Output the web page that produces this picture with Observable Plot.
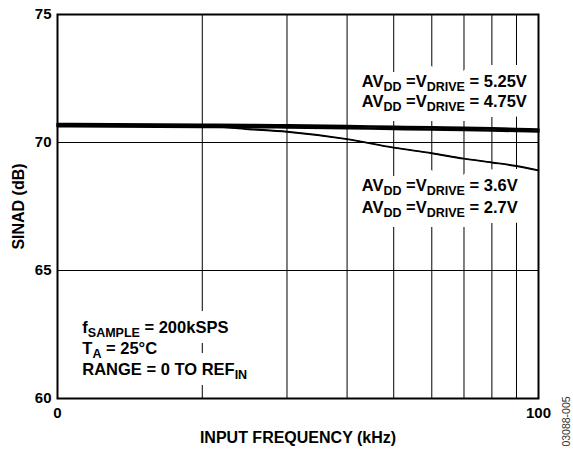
<!DOCTYPE html>
<html>
<head>
<meta charset="utf-8">
<script src="https://cdn.jsdelivr.net/npm/d3@7"></script>
<script src="https://cdn.jsdelivr.net/npm/@observablehq/plot@0.6"></script>
<style>
  html, body { margin: 0; padding: 0; background: #fff; }
</style>
</head>
<body>
<div id="chart"></div>
<script>
// Input frequency (kHz), log axis
const freq = [10, 20, 25, 30, 40, 50, 60, 70, 80, 90, 100];
// SINAD (dB) per supply
const sinad525 = [70.72, 70.69, 70.68, 70.67, 70.64, 70.61, 70.59, 70.57, 70.55, 70.53, 70.51];
const sinad475 = [70.64, 70.61, 70.60, 70.59, 70.56, 70.53, 70.51, 70.49, 70.47, 70.45, 70.43];
const sinad36  = [70.69, 70.66, 70.53, 70.43, 70.14, 69.81, 69.59, 69.38, 69.23, 69.09, 68.92];
const sinad27  = [70.67, 70.64, 70.51, 70.41, 70.12, 69.79, 69.57, 69.36, 69.21, 69.07, 68.90];

const seriesNames = ["5.25V", "4.75V", "3.6V", "2.7V"];
const seriesValues = [sinad525, sinad475, sinad36, sinad27];

const xTicks = [10, 100];
const xTickLabels = ["0", "100"];
const xGrid = [20, 30, 40, 50, 60, 70, 80, 90];
const yTicks = [60, 65, 70, 75];
const yGrid = [65, 70];

const notesHigh = ["AV_{DD} =V_{DRIVE} = 5.25V", "AV_{DD} =V_{DRIVE} = 4.75V"];
const notesLow = ["AV_{DD} =V_{DRIVE} = 3.6V", "AV_{DD} =V_{DRIVE} = 2.7V"];
const notesCond = ["f_{SAMPLE} = 200kSPS", "T_{A} = 25°C", "RANGE = 0 TO REF_{IN}"];

const rows = [];
seriesNames.forEach((name, i) => {
  freq.forEach((f, j) => rows.push({series: name, f, db: seriesValues[i][j]}));
});
const thick = rows.filter(d => d.series === "5.25V" || d.series === "4.75V");
const thin = rows.filter(d => d.series === "3.6V" || d.series === "2.7V");

const notes = [
  {t: notesHigh[0], x: 42.9, y: 72.18},
  {t: notesHigh[1], x: 42.9, y: 71.37},
  {t: notesLow[0], x: 42.9, y: 68.11},
  {t: notesLow[1], x: 42.9, y: 67.26},
  {t: notesCond[0], x: 11.26, y: 62.56},
  {t: notesCond[1], x: 11.26, y: 61.74},
  {t: notesCond[2], x: 11.26, y: 60.90}
];
const noteBase = {
  text: d => d.t,
  x: d => d.x,
  y: d => d.y,
  textAnchor: "start",
  lineAnchor: "bottom",
  fontSize: 16.5,
  fontWeight: "bold"
};

const chart = Plot.plot({
  width: 573,
  height: 449,
  marginLeft: 57,
  marginRight: 35,
  marginTop: 14,
  marginBottom: 51,
  style: {fontFamily: "'Liberation Sans', Arial, sans-serif", fontSize: "14px", fontWeight: "bold", color: "black", background: "white"},
  x: {type: "log", domain: [10, 100]},
  y: {domain: [60, 75]},
  marks: [
    Plot.ruleX(xGrid, {stroke: "black", strokeWidth: 1}),
    Plot.ruleY(yGrid, {stroke: "black", strokeWidth: 1}),
    // white backing behind the annotations (breaks the grid like the original)
    Plot.text(notes, {...noteBase, fill: "white", stroke: "white", strokeWidth: 20, strokeLinejoin: "round"}),
    Plot.text(notes, {...noteBase, fill: "black"}),
    Plot.line(thick, {x: "f", y: "db", z: "series", stroke: "black", strokeWidth: 2.6, curve: "monotone-x"}),
    Plot.line(thin, {x: "f", y: "db", z: "series", stroke: "black", strokeWidth: 1.4, curve: "monotone-x"}),
    Plot.frame({stroke: "black", strokeWidth: 2}),
    Plot.axisY({ticks: yTicks, tickSize: 0, tickPadding: 6, label: null, fontSize: 15, fontWeight: "bold"}),
    Plot.axisX({ticks: xTicks, tickFormat: d => xTickLabels[xTicks.indexOf(d)], tickSize: 0, tickPadding: 9, label: null, fontSize: 15, fontWeight: "bold"}),
    Plot.text(["INPUT FREQUENCY (kHz)"], {frameAnchor: "bottom", dy: 44, textAnchor: "middle", lineAnchor: "bottom", fontSize: 16, fontWeight: "bold", fill: "black"}),
    Plot.text(["SINAD (dB)"], {frameAnchor: "left", dx: -39, rotate: -90, textAnchor: "middle", lineAnchor: "middle", fontSize: 16, fontWeight: "bold", fill: "black"}),
    Plot.text(["03088-005"], {frameAnchor: "bottom-right", dx: 28, dy: 23, rotate: -90, textAnchor: "middle", lineAnchor: "middle", fontSize: 10.5, fontWeight: "normal", fill: "#333"})
  ]
});

// turn "_{...}" into real subscript tspans
const NS = "http://www.w3.org/2000/svg";
chart.querySelectorAll("text").forEach(t => {
  const s = t.textContent;
  if (!s.includes("_{")) return;
  t.textContent = "";
  const parts = s.split(/(_\{[^}]*\})/);
  let lowered = false;
  parts.forEach(p => {
    if (!p) return;
    const ts = document.createElementNS(NS, "tspan");
    if (p.startsWith("_{")) {
      ts.textContent = p.slice(2, -1);
      ts.setAttribute("font-size", "12.5");
      if (!lowered) ts.setAttribute("dy", "4");
      lowered = true;
    } else {
      ts.textContent = p;
      if (lowered) { ts.setAttribute("dy", "-4"); lowered = false; }
    }
    t.appendChild(ts);
  });
});

document.getElementById("chart").appendChild(chart);
</script>
</body>
</html>
